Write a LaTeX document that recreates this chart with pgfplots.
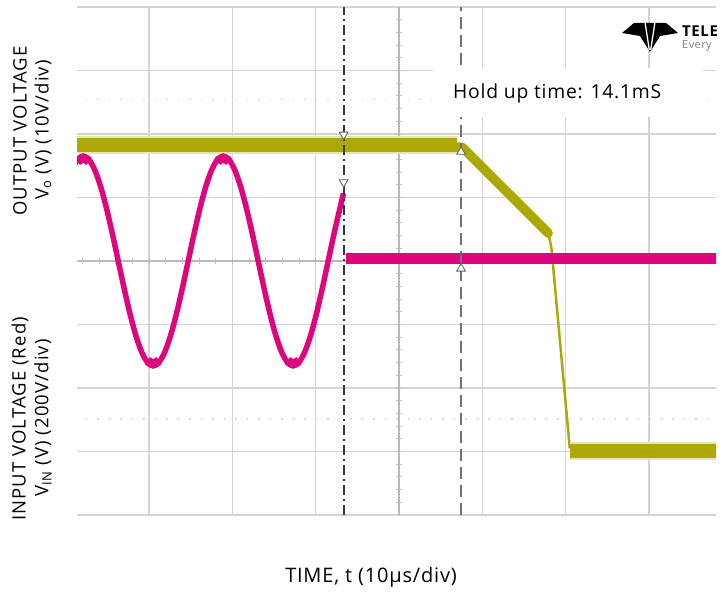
\documentclass[border=0pt]{standalone}
\usepackage{fontspec}
\setmainfont{Open Sans}[LetterSpace=4.0]
\newfontfamily\lblfont{Open Sans}[LetterSpace=6.0]
\usepackage{pgfplots}
\pgfplotsset{compat=1.18}
\definecolor{yel}{RGB}{172,168,4}
\definecolor{mag}{RGB}{222,6,124}
\definecolor{gridc}{RGB}{212,212,212}
\begin{document}
\begin{tikzpicture}[x=1pt,y=1pt]
\useasboundingbox (0,0) rectangle (726,592);
\begin{axis}[
  at={(77pt,77pt)}, anchor=south west,
  scale only axis, width=639pt, height=508pt,
  xmin=-3.865, xmax=3.805, ymin=-4, ymax=4,
  xtick={-3,-2,-1,0,1,2,3}, ytick={-4,-3,-2,-1,0,1,2,3,4},
  xticklabels={}, yticklabels={},
  major tick length=0pt,
  grid=major,
  major grid style={draw=gridc, line width=1.3pt},
  axis line style={draw=none},
  clip marker paths=true,
]
% graticule reference dots
\addplot[gray!30, line width=1.5pt, dash pattern=on 1.5pt off 10pt] coordinates {(-3.9,2.54) (3.9,2.54)};
\addplot[gray!30, line width=1.5pt, dash pattern=on 1.5pt off 10pt] coordinates {(-3.9,-2.49) (3.9,-2.49)};
% centre line ticks
\addplot[only marks, mark=|, mark size=3pt, mark options={draw=gray!50, line width=0.9pt}] coordinates {
(-3.8,0)(-3.6,0)(-3.4,0)(-3.2,0)(-3.0,0)(-2.8,0)(-2.6,0)(-2.4,0)(-2.2,0)(-2.0,0)
(-1.8,0)(-1.6,0)(-1.4,0)(-1.2,0)(-1.0,0)(-0.8,0)(-0.6,0)(-0.4,0)(-0.2,0)(0,0)
(0.2,0)(0.4,0)(0.6,0)(0.8,0)(1.0,0)(1.2,0)(1.4,0)(1.6,0)(1.8,0)(2.0,0)
(2.2,0)(2.4,0)(2.6,0)(2.8,0)(3.0,0)(3.2,0)(3.4,0)(3.6,0)(3.8,0)};
\addplot[only marks, mark=-, mark size=3pt, mark options={draw=gray!50, line width=0.9pt}] coordinates {
(0,-3.8)(0,-3.6)(0,-3.4)(0,-3.2)(0,-3.0)(0,-2.8)(0,-2.6)(0,-2.4)(0,-2.2)(0,-2.0)
(0,-1.8)(0,-1.6)(0,-1.4)(0,-1.2)(0,-1.0)(0,-0.8)(0,-0.6)(0,-0.4)(0,-0.2)
(0,0.2)(0,0.4)(0,0.6)(0,0.8)(0,1.0)(0,1.2)(0,1.4)(0,1.6)(0,1.8)(0,2.0)
(0,2.2)(0,2.4)(0,2.6)(0,2.8)(0,3.0)(0,3.2)(0,3.4)(0,3.6)(0,3.8)};
\addplot[gray!55, line width=1.3pt] coordinates {(0,-4)(0,4)};
\addplot[gray!55, line width=1.3pt] coordinates {(-3.9,0)(3.9,0)};
% output voltage (yellow)
\addplot[yel!30, line width=18pt] coordinates {(-3.95,1.83) (0.70,1.83)};
\addplot[yel, line width=14pt] coordinates {(-3.95,1.83) (0.70,1.83)};
\addplot[yel, line width=9.5pt, line join=round, line cap=round] coordinates {(0.62,1.80) (0.76,1.79) (1.79,0.44)};
\addplot[yel, line width=2.5pt] coordinates {(1.79,0.46) (1.83,0.20) (2.05,-2.95)};
\addplot[yel!30, line width=18pt] coordinates {(2.05,-2.99) (3.95,-2.99)};
\addplot[yel, line width=14pt] coordinates {(2.05,-2.99) (3.95,-2.99)};
% input voltage (magenta)
\addplot[mag, line width=5.5pt, smooth] coordinates {
(-3.93,1.429)(-3.86,1.594)(-3.79,1.650)(-3.72,1.594)(-3.65,1.429)(-3.58,1.167)
(-3.51,0.825)(-3.44,0.427)(-3.37,0)(-3.30,-0.427)(-3.23,-0.825)(-3.16,-1.167)
(-3.09,-1.429)(-3.02,-1.594)(-2.95,-1.650)(-2.88,-1.594)(-2.81,-1.429)(-2.74,-1.167)
(-2.67,-0.825)(-2.60,-0.427)(-2.53,0)(-2.46,0.427)(-2.39,0.825)(-2.32,1.167)
(-2.25,1.429)(-2.18,1.594)(-2.11,1.650)(-2.04,1.594)(-1.97,1.429)(-1.90,1.167)
(-1.83,0.825)(-1.76,0.427)(-1.69,0)(-1.62,-0.427)(-1.55,-0.825)(-1.48,-1.167)
(-1.41,-1.429)(-1.34,-1.594)(-1.27,-1.650)(-1.20,-1.594)(-1.13,-1.429)(-1.06,-1.167)
(-0.99,-0.825)(-0.92,-0.427)(-0.85,0)(-0.78,0.427)(-0.71,0.825)(-0.665,1.065)};
\addplot[mag, line width=9pt, smooth] coordinates {(-3.86,1.57)(-3.79,1.62)(-3.72,1.57)};
\addplot[mag, line width=9pt, smooth] coordinates {(-3.02,-1.57)(-2.95,-1.62)(-2.88,-1.57)};
\addplot[mag, line width=9pt, smooth] coordinates {(-2.18,1.57)(-2.11,1.62)(-2.04,1.57)};
\addplot[mag, line width=9pt, smooth] coordinates {(-1.34,-1.57)(-1.27,-1.62)(-1.20,-1.57)};
\addplot[mag, line width=11pt] coordinates {(-0.64,0.04) (3.95,0.04)};
% cursors
\addplot[black!78, line width=2pt, dash pattern=on 10pt off 4pt on 2pt off 4pt] coordinates {(-0.665,-4)(-0.665,4)};
\addplot[black!55, line width=1.8pt, dash pattern=on 12pt off 6pt] coordinates {(0.745,-4)(0.745,4)};
\addplot[only marks, mark=triangle*, mark size=5pt, mark options={rotate=180, fill=white, draw=black!60, line width=0.9pt}] coordinates {(-0.665,1.99)(-0.665,1.24)};
\addplot[only marks, mark=triangle*, mark size=5pt, mark options={fill=white, draw=black!60, line width=0.9pt}] coordinates {(0.745,1.72)(0.745,-0.12)};
\end{axis}
% annotation box
\fill[white] (433,475) rectangle (703,524);
\node[anchor=base west, inner sep=0pt, font=\fontsize{19.3}{22}\selectfont] at (453,493) {Hold up time: 14.1mS};
% logo (cropped in the reference)
\fill[black] (622,559) -- (634,569) -- (666,569) -- (678,559) -- (660,556) -- (650,540) -- (640,556) -- cycle;
\draw[white, line width=1.3pt] (645,570) -- (649.3,542);
\draw[white, line width=1.3pt] (655,570) -- (650.7,542);
\node[anchor=base west, inner sep=0pt, font=\fontsize{15}{15}\selectfont\bfseries] at (682,555) {TELE};
\node[anchor=base west, inner sep=0pt, font=\fontsize{11}{11}\selectfont, text=gray] at (682,543) {Every};
% axis titles
\node[rotate=90, font=\lblfont\fontsize{18.5}{20}\selectfont] at (20,461) {OUTPUT VOLTAGE};
\node[rotate=90, font=\lblfont\fontsize{18.5}{20}\selectfont] at (43,462) {V\textsubscript{o} (V) (10V/div)};
\node[rotate=90, font=\lblfont\fontsize{18.5}{20}\selectfont] at (20,173) {INPUT VOLTAGE (Red)};
\node[rotate=90, font=\lblfont\fontsize{18.5}{20}\selectfont] at (43,174) {V\textsubscript{IN} (V) (200V/div)};
\node[font=\fontsize{20}{22}\selectfont] at (371,15) {TIME, t (10µs/div)};
\end{tikzpicture}
\end{document}
